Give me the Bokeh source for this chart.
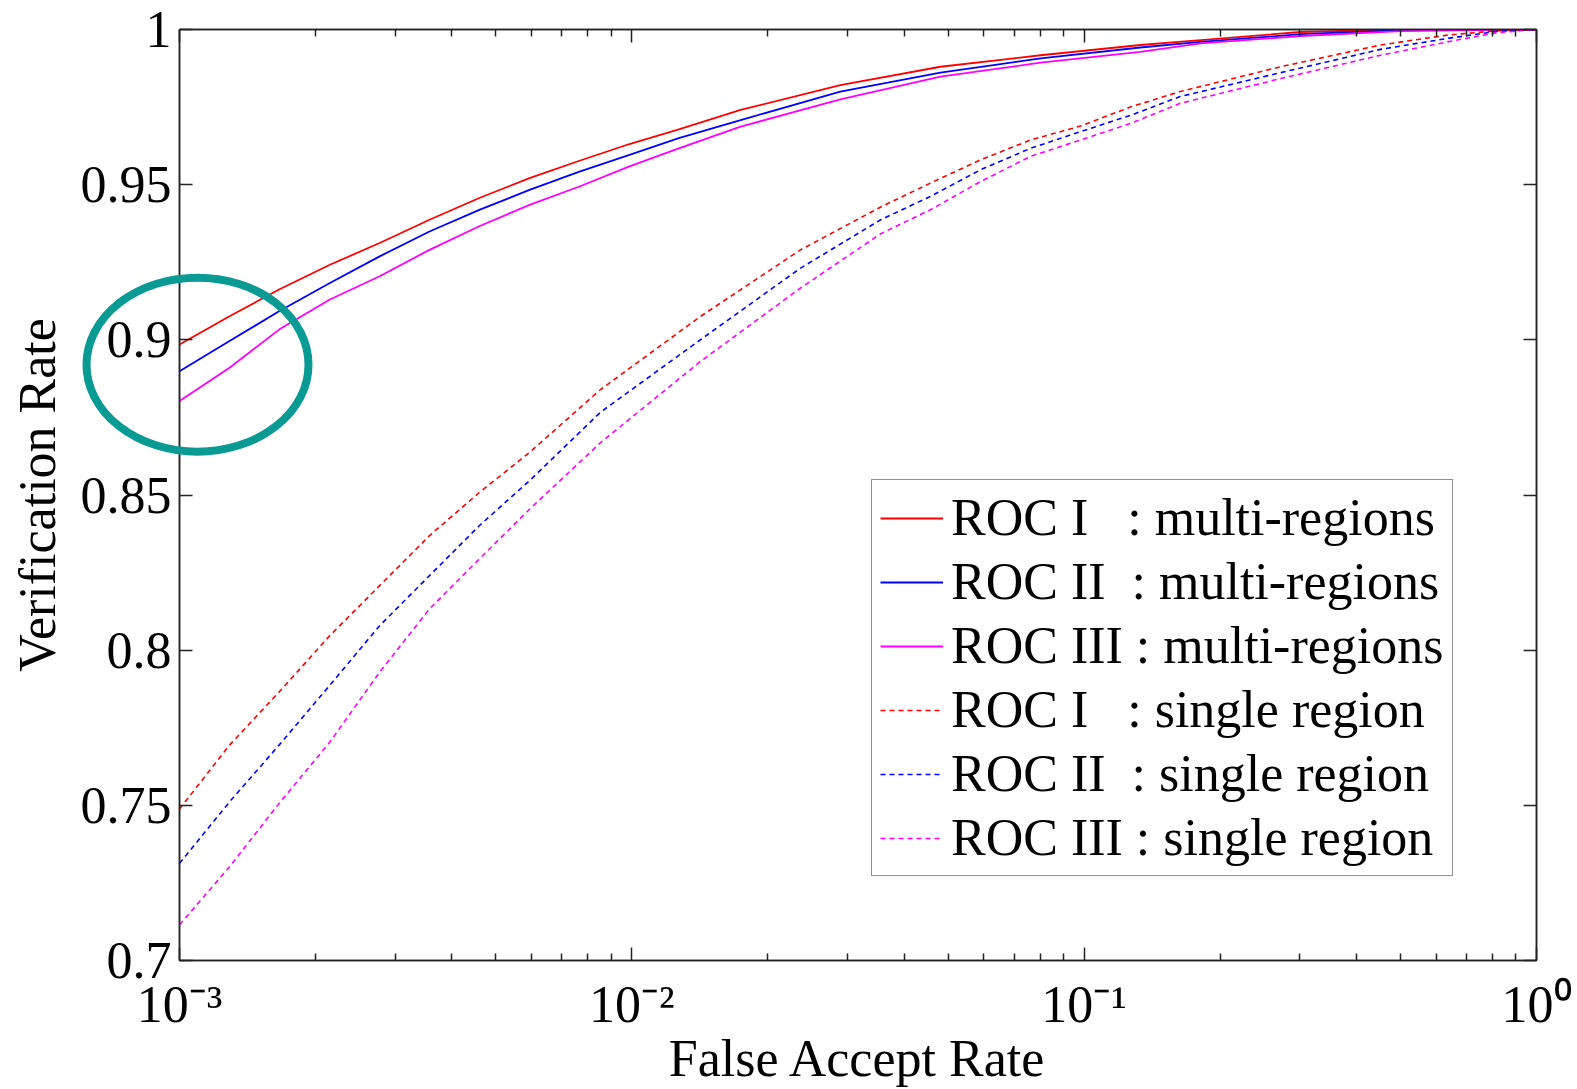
from bokeh.plotting import figure
from bokeh.models import (Range1d, FixedTicker, CustomJSTickFormatter, LinearAxis,
                          LogAxis, Legend, LegendItem)
from bokeh.embed import file_html
from bokeh.resources import INLINE

# ---------------- data ----------------
x_multi = [1.0e-3, 1.29e-3, 1.66e-3, 2.15e-3, 2.77e-3, 3.57e-3, 4.6e-3, 5.94e-3,
           7.66e-3, 9.88e-3, 1.27e-2, 1.74e-2, 2.89e-2, 4.81e-2, 8.01e-2, 0.133,
           0.181, 0.301, 0.501, 1.0]
roc1_multi = [0.8985, 0.9076, 0.9162, 0.9242, 0.9312, 0.9387, 0.9457, 0.9521,
              0.9577, 0.9631, 0.9678, 0.9741, 0.9821, 0.9880, 0.9917, 0.9950,
              0.9966, 0.9992, 1.0, 1.0]
roc2_multi = [0.8899, 0.8996, 0.9092, 0.9183, 0.9269, 0.9349, 0.9419, 0.9483,
              0.9542, 0.9596, 0.9650, 0.9708, 0.9800, 0.9861, 0.9907, 0.9942,
              0.9960, 0.9985, 0.9998, 1.0]
roc3_multi = [0.8803, 0.8910, 0.9033, 0.9130, 0.9205, 0.9290, 0.9366, 0.9435,
              0.9494, 0.9559, 0.9617, 0.9687, 0.9775, 0.9848, 0.9893, 0.9928,
              0.9955, 0.9979, 0.9995, 1.0]

x_single = [1.0e-3, 1.29e-3, 1.66e-3, 2.15e-3, 2.77e-3, 3.57e-3, 4.6e-3, 5.94e-3,
            8.53e-3, 1.42e-2, 2.36e-2, 3.55e-2, 4.57e-2, 5.90e-2, 7.61e-2, 9.82e-2,
            0.127, 0.163, 0.272, 0.452, 0.635, 0.818, 1.0]
roc1_single = [0.7488, 0.7694, 0.7865, 0.8047, 0.8208, 0.8369, 0.8508, 0.8637,
               0.8840, 0.9076, 0.9290, 0.9428, 0.9505, 0.9580, 0.9644, 0.9689,
               0.9751, 0.9800, 0.9880, 0.9950, 0.9982, 0.9996, 1.0]
roc2_single = [0.7313, 0.7511, 0.7694, 0.7887, 0.8079, 0.8240, 0.8401, 0.8546,
               0.8767, 0.9001, 0.9231, 0.9387, 0.9462, 0.9548, 0.9617, 0.9671,
               0.9724, 0.9784, 0.9861, 0.9936, 0.9971, 0.9994, 1.0]
roc3_single = [0.7115, 0.7302, 0.7506, 0.7704, 0.7929, 0.8133, 0.8294, 0.8454,
               0.8669, 0.8931, 0.9167, 0.9342, 0.9419, 0.9510, 0.9591, 0.9644,
               0.9698, 0.9762, 0.9842, 0.9917, 0.9960, 0.9990, 1.0]

labels = ["ROC I\u00a0\u00a0\u00a0: multi-regions",
          "ROC II\u00a0\u00a0: multi-regions",
          "ROC III : multi-regions",
          "ROC I\u00a0\u00a0\u00a0: single region",
          "ROC II\u00a0\u00a0: single region",
          "ROC III : single region"]

x_major = [1e-3, 1e-2, 1e-1, 1.0]
x_minor = [k * 10.0 ** d for d in (-3, -2, -1) for k in range(2, 10)]
y_ticks = [0.7, 0.75, 0.8, 0.85, 0.9, 0.95, 1.0]

# highlight ellipse (annotation)
ell_x, ell_y = 1.096e-3, 0.892

FONT = "Liberation Serif"
FS = "52px"

p = figure(width=1577, height=1089, x_axis_type="log",
           x_range=Range1d(1e-3, 1.0), y_range=Range1d(0.7, 1.0),
           output_backend="svg", toolbar_location=None,
           min_border_left=179, min_border_right=41, min_border_top=29,
           min_border_bottom=129)
p.xgrid.visible = False
p.ygrid.visible = False
p.outline_line_color = "#222222"
p.outline_line_width = 1.5
p.background_fill_color = "white"
p.border_fill_color = "white"


def style(ax):
    ax.axis_line_color = "#222222"
    ax.axis_line_width = 1.5
    ax.major_tick_line_color = "#222222"
    ax.major_tick_line_width = 1.5
    ax.minor_tick_line_color = "#222222"
    ax.minor_tick_line_width = 1.5
    ax.major_tick_in = 13
    ax.major_tick_out = 0
    ax.minor_tick_in = 7
    ax.minor_tick_out = 0
    ax.major_label_text_font = FONT
    ax.major_label_text_font_size = FS
    ax.major_label_text_color = "black"
    ax.axis_label_text_font = FONT
    ax.axis_label_text_font_size = FS
    ax.axis_label_text_font_style = "normal"
    ax.axis_label_text_color = "black"


pow_fmt = CustomJSTickFormatter(code="""
const sup = {'-': '\\u207B', '0': '\\u2070', '1': '\\u00B9', '2': '\\u00B2', '3': '\\u00B3',
             '4': '\\u2074', '5': '\\u2075', '6': '\\u2076', '7': '\\u2077', '8': '\\u2078', '9': '\\u2079'};
const e = String(Math.round(Math.log10(tick)));
return '10' + e.split('').map(c => sup[c]).join('');
""")

xa = p.xaxis[0]
style(xa)
xa.ticker = FixedTicker(ticks=x_major, minor_ticks=x_minor)
xa.formatter = pow_fmt
xa.major_label_standoff = 15
xa.axis_label = "False Accept Rate"
xa.axis_label_standoff = -6

ya = p.yaxis[0]
style(ya)
ya.ticker = FixedTicker(ticks=y_ticks)
ya.formatter = CustomJSTickFormatter(code="return String(Math.round(tick*100)/100)")
ya.minor_tick_line_color = None
ya.major_label_standoff = 8
ya.axis_label = "Verification Rate"
ya.axis_label_standoff = 12

ra = LinearAxis(ticker=FixedTicker(ticks=y_ticks), formatter=CustomJSTickFormatter(code="return ''"))
style(ra)
ra.minor_tick_line_color = None
p.add_layout(ra, "right")

ta = LogAxis(ticker=FixedTicker(ticks=x_major, minor_ticks=x_minor),
             formatter=CustomJSTickFormatter(code="return ''"))
style(ta)
p.add_layout(ta, "above")

colors = ["#ff0000", "#0000ff", "#ff00ff"]
rends = []
for ys, c in zip([roc1_multi, roc2_multi, roc3_multi], colors):
    rends.append(p.line(x_multi, ys, line_color=c, line_width=1.8))
for ys, c in zip([roc1_single, roc2_single, roc3_single], colors):
    rends.append(p.line(x_single, ys, line_color=c, line_width=1.6, line_dash="5 4"))

el = p.ellipse(x=[ell_x], y=[ell_y], width=222, height=174, width_units="screen",
               height_units="screen", fill_color=None, line_color="#0a9a94",
               line_width=8, level="overlay")

legend = Legend(items=[LegendItem(label=l, renderers=[r]) for l, r in zip(labels, rends)],
                location=(692, 84), label_text_font=FONT, label_text_font_size=FS,
                label_text_color="black", glyph_width=63, glyph_height=50,
                label_height=50, label_standoff=8, spacing=5, padding=8, margin=0,
                border_line_color="#222222", border_line_width=1.5,
                background_fill_color="white", background_fill_alpha=1.0)
p.add_layout(legend)

open("out.html", "w").write(file_html(p, INLINE))
